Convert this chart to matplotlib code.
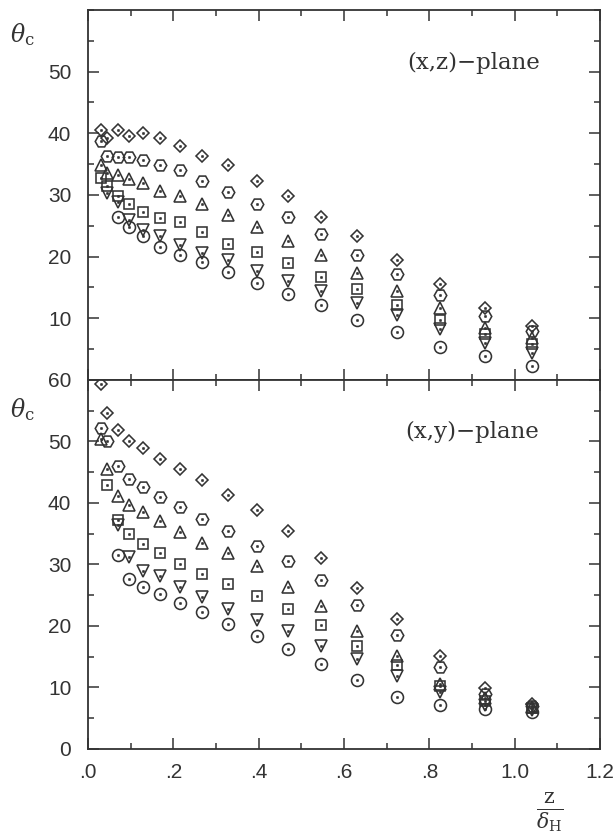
import numpy as np
import matplotlib
matplotlib.use("Agg")
import matplotlib.pyplot as plt
from matplotlib.ticker import MultipleLocator, FixedLocator, FixedFormatter

nan = np.nan

# ---- data -------------------------------------------------------------
z_dH = [0.030, 0.045, 0.070, 0.097, 0.130, 0.169, 0.215, 0.268, 0.328,
        0.395, 0.468, 0.547, 0.630, 0.725, 0.825, 0.930, 1.040]

# (x,z)-plane
xz_diamond = [40.6, 39.2, 40.5, 39.6, 40.1, 39.2, 38.0, 36.4, 34.9, 32.3, 29.9, 26.5, 23.3, 19.4, 15.5, 11.7, 8.7]
xz_hexagon = [38.7, 36.4, 36.2, 36.1, 35.6, 34.9, 34.0, 32.3, 30.5, 28.6, 26.4, 23.7, 20.3, 17.2, 13.7, 10.4, 7.9]
xz_triup   = [34.9, 33.6, 33.2, 32.6, 31.9, 30.7, 29.9, 28.6, 26.7, 24.8, 22.6, 20.2, 17.4, 14.4, 11.7, 8.5, 6.8]
xz_square  = [32.7, 31.4, 29.8, 28.6, 27.2, 26.3, 25.6, 24.0, 22.1, 20.8, 19.0, 16.7, 14.8, 12.1, 9.8, 7.4, 5.8]
xz_tridown = [nan, 30.3, 28.8, 26.0, 24.4, 23.4, 21.9, 20.6, 19.4, 17.6, 16.0, 14.4, 12.5, 10.6, 8.2, 6.0, 4.4]
xz_circle  = [nan, nan, 26.5, 24.8, 23.3, 21.6, 20.3, 19.1, 17.5, 15.7, 14.0, 12.1, 9.8, 7.7, 5.3, 3.9, 2.3]

# (x,y)-plane
xy_diamond = [59.3, 54.6, 51.9, 50.1, 48.9, 47.2, 45.6, 43.8, 41.3, 38.9, 35.5, 31.1, 26.1, 21.1, 15.1, 9.9, 7.3]
xy_hexagon = [52.2, 50.1, 46.0, 43.9, 42.6, 41.0, 39.3, 37.4, 35.5, 33.0, 30.5, 27.4, 23.4, 18.6, 13.4, 8.9, 7.0]
xy_triup   = [50.4, 45.5, 41.2, 39.6, 38.6, 37.1, 35.2, 33.5, 31.9, 29.7, 26.4, 23.3, 19.2, 15.1, 10.5, 8.3, 6.9]
xy_square  = [nan, 43.0, 37.3, 34.9, 33.3, 31.8, 30.1, 28.5, 26.8, 24.9, 22.8, 20.1, 16.7, 13.6, 10.3, 7.8, 6.6]
xy_tridown = [nan, nan, 36.4, 31.2, 29.0, 28.2, 26.4, 24.7, 22.8, 20.9, 19.2, 16.7, 14.6, 11.8, 9.2, 7.1, 6.3]
xy_circle  = [nan, nan, 31.6, 27.7, 26.3, 25.2, 23.7, 22.2, 20.4, 18.4, 16.2, 13.8, 11.2, 8.5, 7.2, 6.5, 6.0]

x_ticks = [0.0, 0.2, 0.4, 0.6, 0.8, 1.0, 1.2]
x_ticklabels = [".0", ".2", ".4", ".6", ".8", "1.0", "1.2"]
top_yticks = [10, 20, 30, 40, 50]
bot_yticks = [0, 10, 20, 30, 40, 50, 60]
panel_labels = ["(x,z)\u2212plane", "(x,y)\u2212plane"]

# ---- style ------------------------------------------------------------
INK = "#333333"
plt.rcParams["mathtext.fontset"] = "dejavuserif"

styles = [  # marker, size
    ("D", 6.2),
    ("H", 9.0),
    ("^", 8.6),
    ("s", 7.6),
    ("v", 8.6),
    ("o", 8.6),
]

fig = plt.figure(figsize=(6.16, 8.39), dpi=100)
fig.patch.set_facecolor("white")
L, W = 0.1429, 0.8312
ax1 = fig.add_axes([L, 0.5471, W, 0.4410])
ax2 = fig.add_axes([L, 0.1073, W, 0.4398])

def draw(ax, series):
    for (mk, ms), ys in zip(styles, series):
        ax.plot(z_dH, ys, linestyle="none", marker=mk, markersize=ms,
                markerfacecolor="none", markeredgecolor=INK,
                markeredgewidth=1.15, zorder=3)
        ax.plot(z_dH, ys, linestyle="none", marker="o", markersize=1.8,
                markerfacecolor=INK, markeredgecolor=INK,
                markeredgewidth=0.3, zorder=4)

draw(ax1, [xz_diamond, xz_hexagon, xz_triup, xz_square, xz_tridown, xz_circle])
draw(ax2, [xy_diamond, xy_hexagon, xy_triup, xy_square, xy_tridown, xy_circle])

for ax in (ax1, ax2):
    ax.set_xlim(0, 1.2)
    ax.set_ylim(0, 60)
    for s in ax.spines.values():
        s.set_color(INK)
        s.set_linewidth(1.3)
    ax.xaxis.set_major_locator(FixedLocator(x_ticks))
    ax.xaxis.set_minor_locator(MultipleLocator(0.1))
    ax.yaxis.set_minor_locator(MultipleLocator(5))
    ax.tick_params(which="both", direction="in", top=True, right=True,
                   color=INK, width=1.1, labelcolor=INK)
    ax.tick_params(which="major", length=8)
    ax.tick_params(which="minor", length=4)
    ax.tick_params(axis="y", which="major", pad=12)
    ax.tick_params(axis="x", which="major", pad=10)

ax1.yaxis.set_major_locator(FixedLocator(top_yticks))
ax1.set_xticklabels([])
ax2.yaxis.set_major_locator(FixedLocator(bot_yticks))
ax2.xaxis.set_major_formatter(FixedFormatter(x_ticklabels))

for ax in (ax1, ax2):
    for lab in ax.get_xticklabels() + ax.get_yticklabels():
        lab.set_fontfamily("Liberation Sans")
        lab.set_fontsize(15)

ax1.text(0.623, 0.857, panel_labels[0], transform=ax1.transAxes,
         family="DejaVu Serif", fontsize=16.5, color=INK, va="center", ha="left")
ax2.text(0.620, 0.859, panel_labels[1], transform=ax2.transAxes,
         family="DejaVu Serif", fontsize=16.5, color=INK, va="center", ha="left")

fig.text(10 / 616, 1 - 35 / 839, r"$\theta_{\mathrm{c}}$", fontsize=17,
         color=INK, va="center", ha="left")
fig.text(10 / 616, 1 - 410 / 839, r"$\theta_{\mathrm{c}}$", fontsize=17,
         color=INK, va="center", ha="left")
fig.text(550 / 616, 1 - 812 / 839, r"$\frac{\mathrm{z}}{\delta_{\mathrm{H}}}$",
         fontsize=21, color=INK, va="center", ha="center")

fig.savefig("out.png", dpi=100, facecolor="white")
